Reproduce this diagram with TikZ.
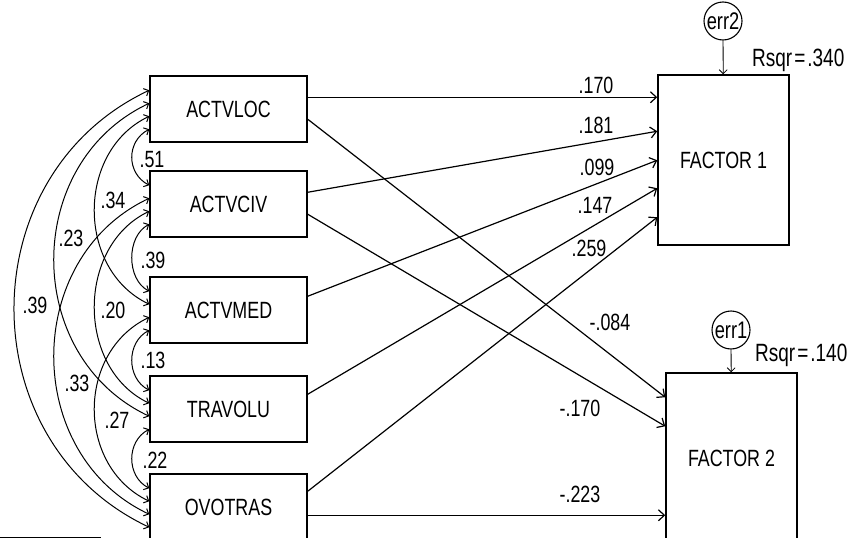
\documentclass[tikz,border=0pt]{standalone}
\usepackage{fontspec}
\setmainfont{Liberation Sans}[FakeStretch=0.76]
\usetikzlibrary{arrows.meta}
\begin{document}
\begin{tikzpicture}[x=1pt,y=-1pt,
  box/.style={draw, line width=1.5pt, minimum width=157pt, minimum height=66pt, inner sep=0pt, font=\fontsize{23.5}{25}\selectfont},
  facbox/.style={draw, line width=1.5pt, minimum width=131pt, minimum height=170pt, inner sep=0pt, font=\fontsize{23.5}{25}\selectfont},
  lbl/.style={inner sep=0pt, font=\fontsize{23.5}{25}\selectfont},
  rsq/.style={inner sep=0pt, anchor=west, font=\fontsize{25}{26}\selectfont},
  patharr/.style={line width=1.2pt, -{Straight Barb[length=6pt,width=11pt,line width=1.2pt]}},
  cor/.style={line width=1pt, {Straight Barb[length=4pt,width=8pt,line width=1pt]}-{Straight Barb[length=4pt,width=8pt,line width=1pt]}},
  errc/.style={draw, circle, line width=1.1pt, minimum size=38pt, inner sep=0pt, font=\fontsize{24}{26}\selectfont},
  errarr/.style={line width=0.8pt, -{Straight Barb[length=4pt,width=8pt,line width=0.8pt]}},
]
\useasboundingbox (0,0) rectangle (868,538);
\clip (0,0) rectangle (868,538);

% boxes
\node[box] (loc)  at (228.5,109) {ACTVLOC};
\node[box] (civ)  at (228.5,204) {ACTVCIV};
\node[box] (med)  at (228.5,310) {ACTVMED};
\node[box] (trav) at (228.5,409) {TRAVOLU};
\node[box] (ovo)  at (228.5,507) {OVOTRAS};
\node[facbox] (f1) at (723.5,160) {FACTOR 1};
\node[facbox] (f2) at (731.5,458) {FACTOR 2};

% error terms
\node[errc] (e2) at (723,21) {err2};
\node[errc] (e1) at (731,330) {err1};
\draw[errarr] (e2) -- (f1);
\draw[errarr] (e1) -- (f2);
\node[rsq] (r2) at (752,60) {Rsqr\kern2pt=\kern2pt.340};
\node[rsq] (r1) at (755,355) {Rsqr\kern2pt=\kern2pt.140};

% paths
\draw[patharr] ([yshift=-22pt]loc.north east) -- ([yshift=-23pt]f1.north west);
\draw[patharr] ([yshift=-44pt]loc.north east) -- ([yshift=-25pt]f2.north west);
\draw[patharr] ([yshift=-22pt]civ.north east) -- ([yshift=-57pt]f1.north west);
\draw[patharr] ([yshift=-44pt]civ.north east) -- ([yshift=-54pt]f2.north west);
\draw[patharr] ([yshift=-20pt]med.north east) -- ([yshift=-86pt]f1.north west);
\draw[patharr] ([yshift=-19pt]trav.north east) -- ([yshift=-114pt]f1.north west);
\draw[patharr] ([yshift=-18pt]ovo.north east) -- ([yshift=-143pt]f1.north west);
\draw[patharr] ([yshift=-42pt]ovo.north east) -- ([yshift=-143pt]f2.north west);

\node[lbl] (p1) at (596,85) {.170};
\node[lbl] (p2) at (596,125) {.181};
\node[lbl] (p3) at (597,167) {.099};
\node[lbl] (p4) at (595,205) {.147};
\node[lbl] (p5) at (589,248) {.259};
\node[lbl] (p6) at (610,322) {-.084};
\node[lbl] (p7) at (580,408) {-.170};
\node[lbl] (p8) at (580,494) {-.223};

% correlations
\draw[cor] ([yshift=-54pt]loc.north west) .. controls +(-23,12) and +(-23,-12) .. ([yshift=-15pt]civ.north west);
\draw[cor] ([yshift=-41pt]loc.north west) .. controls +(-73,35) and +(-73,-35) .. ([yshift=-28pt]med.north west);
\draw[cor] ([yshift=-28pt]loc.north west) .. controls +(-127,60) and +(-127,-60) .. ([yshift=-41pt]trav.north west);
\draw[cor] ([yshift=-15pt]loc.north west) .. controls +(-180,85) and +(-180,-85) .. ([yshift=-54pt]ovo.north west);
\draw[cor] ([yshift=-54pt]civ.north west) .. controls +(-23,12) and +(-23,-12) .. ([yshift=-15pt]med.north west);
\draw[cor] ([yshift=-41pt]civ.north west) .. controls +(-73,35) and +(-73,-35) .. ([yshift=-28pt]trav.north west);
\draw[cor] ([yshift=-28pt]civ.north west) .. controls +(-127,60) and +(-127,-60) .. ([yshift=-41pt]ovo.north west);
\draw[cor] ([yshift=-54pt]med.north west) .. controls +(-23,12) and +(-23,-12) .. ([yshift=-15pt]trav.north west);
\draw[cor] ([yshift=-41pt]med.north west) .. controls +(-73,35) and +(-73,-35) .. ([yshift=-28pt]ovo.north west);
\draw[cor] ([yshift=-54pt]trav.north west) .. controls +(-23,12) and +(-23,-12) .. ([yshift=-15pt]ovo.north west);

\node[lbl] (c1) at (152,160) {.51};
\node[lbl] (c2) at (113,200) {.34};
\node[lbl] (c3) at (71,238) {.23};
\node[lbl] (c4) at (35,305) {.39};
\node[lbl] (c5) at (153,260) {.39};
\node[lbl] (c6) at (113,310) {.20};
\node[lbl] (c7) at (77,383) {.33};
\node[lbl] (c8) at (153,360) {.13};
\node[lbl] (c9) at (117,420) {.27};
\node[lbl] (c10) at (155,460) {.22};

% rule at the bottom left
\draw[line width=1pt] (0,537) -- (101,537);
\end{tikzpicture}
\end{document}
